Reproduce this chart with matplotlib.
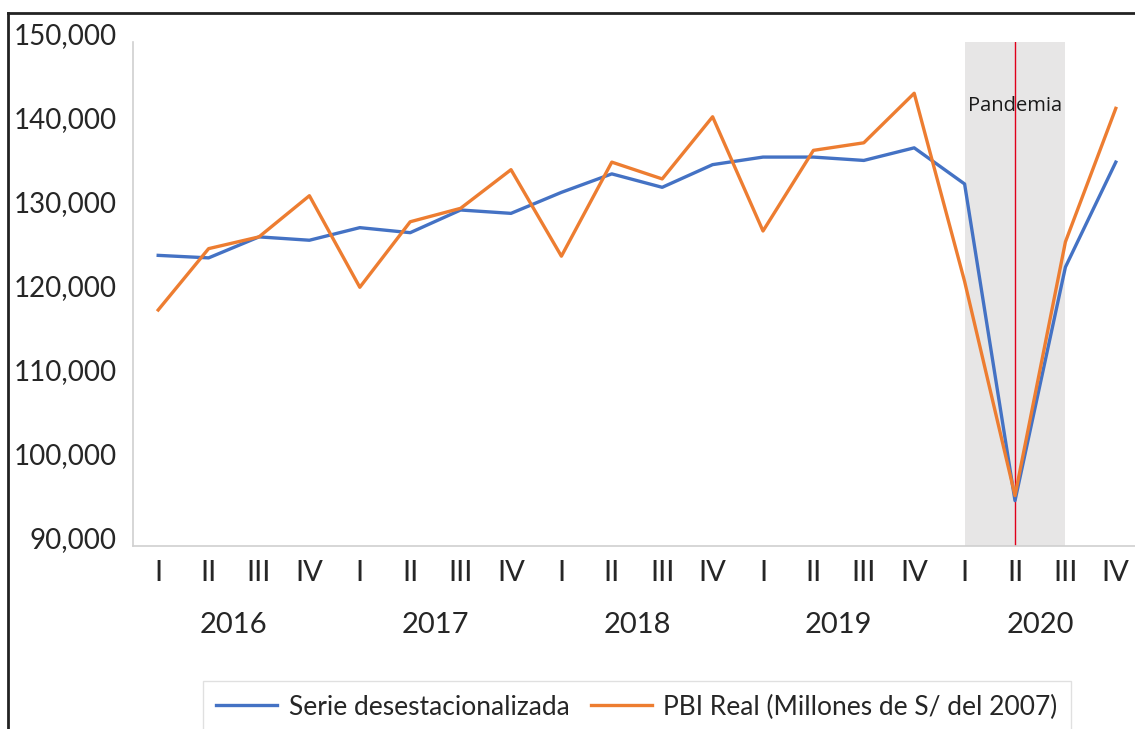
import matplotlib
matplotlib.use('Agg')
import matplotlib.pyplot as plt
import matplotlib.transforms as mtransforms
from matplotlib.lines import Line2D
from matplotlib.ticker import FuncFormatter

# data (millones de S/ del 2007)
quarters = ['I', 'II', 'III', 'IV'] * 5
years = ['2016', '2017', '2018', '2019', '2020']
serie = [124600, 124300, 126800, 126400, 127900, 127300, 130000, 129600, 132100, 134300,
         132700, 135400, 136300, 136300, 135900, 137400, 133100, 95400, 123200, 135700]
pbi = [118100, 125400, 126800, 131700, 120800, 128600, 130200, 134800, 124500, 135700,
       133700, 141100, 127500, 137100, 138000, 143900, 121500, 96000, 126200, 142100]
pandemia_start, pandemia_mid, pandemia_end = 16, 17, 18

W, H = 1135, 729
fig = plt.figure(figsize=(W / 100, H / 100), dpi=100)
ax = fig.add_axes([133 / W, 1 - 546 / H, 1008 / W, 504 / H])

x = list(range(len(quarters)))

# pandemic shading + marker
ax.axvspan(pandemia_start, pandemia_end, color='#E7E6E6', zorder=0, lw=0)
ax.axvline(pandemia_mid, color='#E0001A', lw=1.0, zorder=1)
ax.text(16.06, 142400, 'Pandemia', va='center', ha='left', fontsize=14.5,
        family='Open Sans', color='#1a1a1a', zorder=4)

ax.plot(x, serie, color='#4472C4', lw=2.4, label='Serie desestacionalizada', zorder=3)
ax.plot(x, pbi, color='#ED7D31', lw=2.4, label='PBI Real (Millones de S/ del 2007)', zorder=3)

ax.set_xlim(-0.5, 19.5)
ax.set_ylim(90000, 150000)
ax.set_yticks(range(90000, 150001, 10000))
ax.yaxis.set_major_formatter(FuncFormatter(lambda v, p: f'{int(v):,}'))
ax.set_xticks(x)
ax.set_xticklabels(quarters)

for s in ['top', 'right']:
    ax.spines[s].set_visible(False)
for s in ['left', 'bottom']:
    ax.spines[s].set_color('#D0D0D0')
    ax.spines[s].set_linewidth(1.2)

ax.tick_params(axis='y', length=0, pad=12, labelsize=20, labelcolor='#262626')
ax.tick_params(axis='x', length=0, pad=10, labelsize=21, labelcolor='#262626')
for lab in ax.get_yticklabels():
    lab.set_family('Lato')
    lab.set_transform(lab.get_transform() + mtransforms.ScaledTranslation(0, 6 / 72, fig.dpi_scale_trans))
for lab in ax.get_xticklabels():
    lab.set_family('Lato')

# year labels under each group of four quarters
trans = mtransforms.blended_transform_factory(ax.transData, ax.transAxes)
for i, yr in enumerate(years):
    ax.text(4 * i + 1.5, -0.157, yr, transform=trans, ha='center', va='center',
            fontsize=21, family='Lato', color='#262626')

leg = ax.legend(loc='center', bbox_to_anchor=(637 / W, 1 - 707 / H), bbox_transform=fig.transFigure,
                ncol=2, frameon=True, fancybox=False, handlelength=2.3, handletextpad=0.45,
                columnspacing=0.8, borderpad=0.5,
                prop={'family': 'Lato', 'size': 19})
leg.get_frame().set_edgecolor('#D9D9D9')
leg.get_frame().set_linewidth(1.0)
for t in leg.get_texts():
    t.set_color('#262626')

# outer black frame (left and top edges visible)
fig.add_artist(Line2D([8 / W, 8 / W], [0, 1 - 13 / H], transform=fig.transFigure, color='#222222', lw=2))
fig.add_artist(Line2D([8 / W, 1], [1 - 13 / H, 1 - 13 / H], transform=fig.transFigure, color='#222222', lw=2))

fig.savefig('out.png', dpi=100)
